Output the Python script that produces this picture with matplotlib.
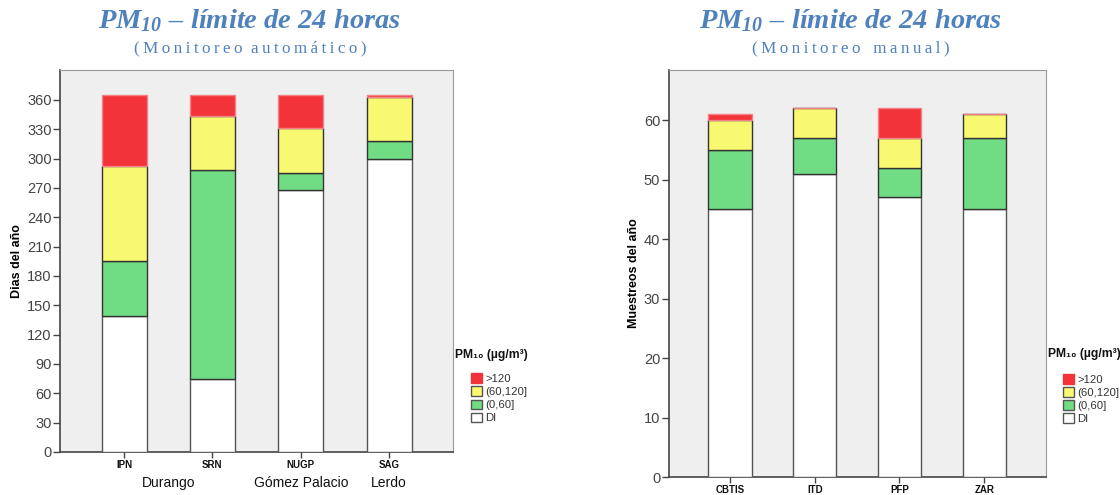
import numpy as np
import matplotlib
matplotlib.use("Agg")
import matplotlib.pyplot as plt
from matplotlib.patches import Patch

plt.rcParams['font.family'] = ['Liberation Sans', 'DejaVu Sans']
plt.rcParams['mathtext.fontset'] = 'custom'
plt.rcParams['mathtext.rm'] = 'Liberation Serif:bold:italic'
plt.rcParams['mathtext.it'] = 'Liberation Serif:bold:italic'
plt.rcParams['mathtext.bf'] = 'Liberation Serif:bold:italic'

# automatic monitoring (days of the year)
auto_sites = ["IPN", "SRN", "NUGP", "SAG"]
auto_di = [139, 75, 268, 300]
auto_low = [56, 213, 17, 18]      # (0,60]
auto_mid = [97, 55, 46, 45]       # (60,120]
auto_high = [73, 22, 34, 2]       # >120
auto_cities = ["Durango", "Gómez Palacio", "Lerdo"]
auto_city_pos = [0.5, 2.0, 3.0]

# manual monitoring (samples of the year)
man_sites = ["CBTIS", "ITD", "PFP", "ZAR"]
man_di = [45, 51, 47, 45]
man_low = [10, 6, 5, 12]
man_mid = [5, 5, 5, 4]
man_high = [1, 0, 5, 0]

cat_labels = [">120", "(60,120]", "(0,60]", "DI"]
colors = {"high": "#F23339", "mid": "#F9F871", "low": "#70DD85", "di": "#FFFFFF"}

title_color = "#4F81BD"
bg = "#EFEFEF"


def spaced(s, gap):
    # letter-spaced subtitle: thin space between letters, wider gap between words
    words = s.split(" ")
    return gap.join("\u2009".join(w) for w in words if w)


def draw_panel(ax, sites, di, low, mid, high, ylim, yticks, ylabel, leg_y):
    x = np.arange(len(sites))
    di, low, mid, high = map(np.array, (di, low, mid, high))
    w = 0.51
    ax.set_facecolor(bg)
    ax.bar(x, di, w, color=colors["di"], edgecolor="#555555", linewidth=1, zorder=3)
    ax.bar(x, low, w, bottom=di, color=colors["low"], edgecolor="#333333", linewidth=1, zorder=3)
    ax.bar(x, mid, w, bottom=di + low, color=colors["mid"], edgecolor="#333333", linewidth=1, zorder=3)
    ax.bar(x, high, w, bottom=di + low + mid, color=colors["high"], edgecolor="#F28088", linewidth=1, zorder=3)
    ax.set_xlim(-0.725, 3.725)
    ax.set_ylim(*ylim)
    ax.set_yticks(yticks)
    ax.set_xticks(x)
    ax.set_xticklabels(sites, fontsize=7, fontweight="bold", color="#111111")
    ax.tick_params(axis="y", labelsize=10.5, labelcolor="#444444", color="#444444", length=5, width=1, pad=1)
    ax.tick_params(axis="x", color="#444444", length=4, width=1, pad=2)
    ax.set_ylabel(ylabel, fontsize=9, fontweight="bold", labelpad=3)
    for s in ["top", "right"]:
        ax.spines[s].set_color("#999999")
    for s in ["left", "bottom"]:
        ax.spines[s].set_color("#444444")
        ax.spines[s].set_linewidth(1.2)
    handles = [Patch(facecolor=colors["high"], edgecolor=colors["high"]),
               Patch(facecolor=colors["mid"], edgecolor="#555555"),
               Patch(facecolor=colors["low"], edgecolor="#555555"),
               Patch(facecolor=colors["di"], edgecolor="#555555")]
    ax.text(1.005, leg_y + 0.045, "PM₁₀ (µg/m³)", transform=ax.transAxes, ha="left", va="center",
            fontsize=8.7, fontweight="bold", color="#111111")
    leg = ax.legend(handles, cat_labels, loc="upper left",
                    bbox_to_anchor=(1.046, leg_y - 0.004), frameon=False,
                    fontsize=8.2, handlelength=0.95, handleheight=0.95,
                    handletextpad=0.3, labelspacing=0.2, borderaxespad=0, borderpad=0)
    for t in leg.get_texts():
        t.set_color("#333333")


fig = plt.figure(figsize=(11.2, 4.95), dpi=100)
ax1 = fig.add_axes([0.0536, 0.0869, 0.351, 0.7717])
ax2 = fig.add_axes([0.597, 0.0363, 0.3366, 0.822])

draw_panel(ax1, auto_sites, auto_di, auto_low, auto_mid, auto_high,
           (0, 390.5), np.arange(0, 361, 30), "Dias del año", 0.21)
draw_panel(ax2, man_sites, man_di, man_low, man_mid, man_high,
           (0, 68.4), np.arange(0, 61, 10), "Muestreos del año", 0.258)

for pos, name in zip(auto_city_pos, auto_cities):
    ax1.annotate(name, xy=(pos, 0), xycoords=("data", "axes fraction"),
                 xytext=(0, -17.5), textcoords="offset points", ha="center", va="top",
                 fontsize=10, color="#111111")

title_main = "PM$_{10}$ – límite de 24 horas"
for cx, sub, gap in [(250, "(Monitoreo automático)", "  "), (851, "(Monitoreo manual)", "   ")]:
    fig.text(cx / 1120, 1 - 21 / 495, title_main, ha="center", va="center", fontsize=20.5,
             family="Liberation Serif", fontweight="bold", style="italic", color=title_color)
    fig.text(cx / 1120, 1 - 48 / 495, spaced(sub, gap), ha="center", va="center", fontsize=12.3,
             family=["Liberation Serif", "DejaVu Serif"], color=title_color)

fig.savefig("out.png", dpi=100)
